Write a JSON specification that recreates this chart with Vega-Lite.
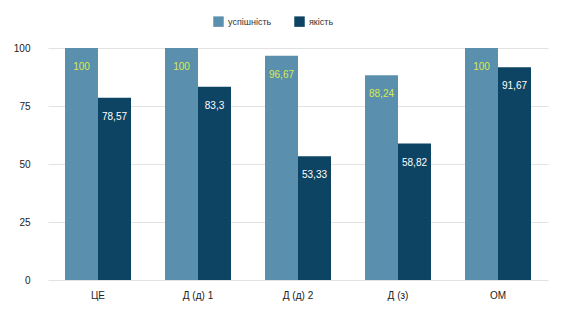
{
  "$schema": "https://vega.github.io/schema/vega-lite/v6.json",
  "autosize": "none",
  "width": 500,
  "height": 232,
  "padding": {"left": 48, "top": 48, "right": 18, "bottom": 29},
  "background": "white",
  "config": {"view": {"stroke": null}, "font": "Liberation Sans"},
  "data": {"values": [
    {"cat": "ЦЕ", "series": "успішність", "value": 100, "label": "100"},
    {"cat": "ЦЕ", "series": "якість", "value": 78.57, "label": "78,57"},
    {"cat": "Д (д) 1", "series": "успішність", "value": 100, "label": "100"},
    {"cat": "Д (д) 1", "series": "якість", "value": 83.3, "label": "83,3"},
    {"cat": "Д (д) 2", "series": "успішність", "value": 96.67, "label": "96,67"},
    {"cat": "Д (д) 2", "series": "якість", "value": 53.33, "label": "53,33"},
    {"cat": "Д (з)", "series": "успішність", "value": 88.24, "label": "88,24"},
    {"cat": "Д (з)", "series": "якість", "value": 58.82, "label": "58,82"},
    {"cat": "ОМ", "series": "успішність", "value": 100, "label": "100"},
    {"cat": "ОМ", "series": "якість", "value": 91.67, "label": "91,67"}
  ]},
  "encoding": {
    "x": {"field": "cat", "type": "nominal", "sort": null,
      "scale": {"paddingInner": 0.34, "paddingOuter": 0.17},
      "axis": {"title": null, "labelAngle": 0, "domain": false, "ticks": false, "labelPadding": 10, "labelFontSize": 10, "labelColor": "#222"}},
    "xOffset": {"field": "series", "type": "nominal", "sort": ["успішність", "якість"]},
    "y": {"field": "value", "type": "quantitative", "scale": {"domain": [0, 100]},
      "axis": {"title": null, "values": [0, 25, 50, 75, 100], "domain": false, "ticks": false, "labelPadding": 18, "labelFontSize": 10, "labelColor": "#222", "gridColor": "#e2e2e2"}}
  },
  "layer": [
    {
      "mark": {"type": "bar"},
      "encoding": {
        "color": {"field": "series", "type": "nominal", "sort": ["успішність", "якість"],
          "scale": {"domain": ["успішність", "якість"], "range": ["#5a8fae", "#0d4464"]},
          "legend": {"title": null, "orient": "none", "legendX": 165, "legendY": -32, "direction": "horizontal", "symbolType": "square", "symbolSize": 110, "symbolStrokeWidth": 0, "labelFontSize": 9, "labelColor": "#333", "columnPadding": 22}}
      }
    },
    {
      "mark": {"type": "text", "baseline": "top", "dy": 14, "fontSize": 10},
      "encoding": {
        "text": {"field": "label"},
        "color": {"condition": {"test": "datum.series === 'успішність'", "value": "#d8ec4a"}, "value": "#ffffff"}
      }
    }
  ]
}
